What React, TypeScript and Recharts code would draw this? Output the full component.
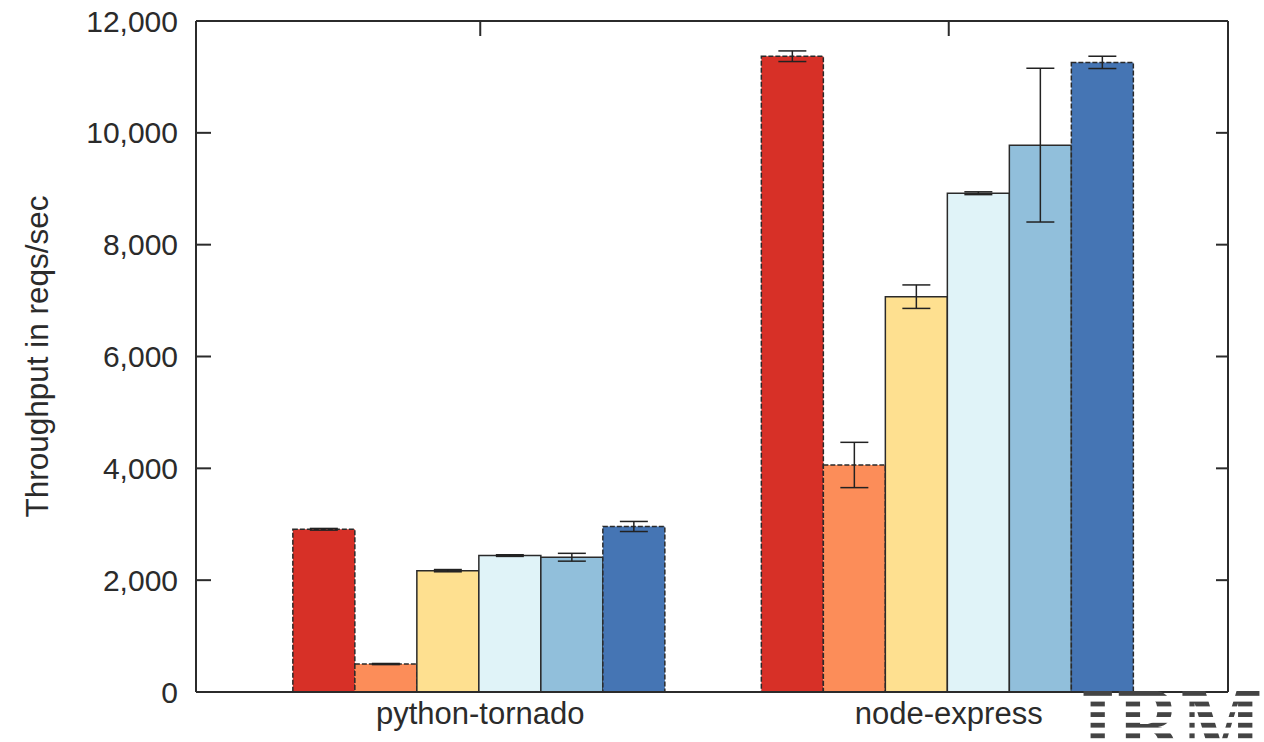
import React from 'react';
import { BarChart, Bar, XAxis, YAxis, ErrorBar } from 'recharts';

// categories on the x axis
const groups = ['python-tornado', 'node-express'];

// throughput per run (reqs/sec) and the error half-width
const run1 = [2910, 11370];
const run1Err = [15, 95];
const run2 = [500, 4060];
const run2Err = [10, 405];
const run3 = [2170, 7070];
const run3Err = [20, 210];
const run4 = [2440, 8920];
const run4Err = [15, 25];
const run5 = [2410, 9780];
const run5Err = [70, 1375];
const run6 = [2960, 11260];
const run6Err = [90, 110];

const yTicks = [0, 2000, 4000, 6000, 8000, 10000, 12000];

const runs = [
  { key: 'run1', values: run1, errors: run1Err, color: '#d73027', dashed: true },
  { key: 'run2', values: run2, errors: run2Err, color: '#fc8d59', dashed: true },
  { key: 'run3', values: run3, errors: run3Err, color: '#fee090', dashed: false },
  { key: 'run4', values: run4, errors: run4Err, color: '#e0f3f8', dashed: false },
  { key: 'run5', values: run5, errors: run5Err, color: '#91bfdb', dashed: false },
  { key: 'run6', values: run6, errors: run6Err, color: '#4575b4', dashed: true },
];

const data = groups.map((name, i) => {
  const row: Record<string, string | number> = { name };
  runs.forEach((r) => {
    row[r.key] = r.values[i];
    row[r.key + 'Err'] = r.errors[i];
  });
  return row;
});

const FONT = '"Liberation Sans", Arial, Helvetica, sans-serif';
const AXIS = '#2b2b2b';
const xPad = { left: 50, right: 45 };

const noTick = () => <g />;

const App: React.FC = () => {
  return (
    <div style={{ position: 'absolute', left: 0, top: 0, width: 1264, height: 742, background: '#fff' }}>
      <BarChart
        width={1264}
        height={742}
        data={data}
        margin={{ top: 0, right: 0, bottom: 0, left: 0 }}
        barCategoryGap="10%"
        barGap={0}
      >
        <XAxis
          dataKey="name"
          xAxisId="bottom"
          height={50}
          padding={xPad}
          stroke={AXIS}
          strokeWidth={2}
          tickLine={false}
          tickSize={6}
          tickMargin={4}
          tick={{ fontSize: 31, fontFamily: FONT, fill: '#2b2b2b' }}
        />
        <XAxis
          dataKey="name"
          xAxisId="top"
          orientation="top"
          height={21}
          padding={xPad}
          stroke={AXIS}
          strokeWidth={2}
          tickSize={-15}
          tick={noTick}
        />
        <YAxis
          yAxisId="left"
          width={196}
          domain={[0, 12000]}
          ticks={yTicks}
          interval={0}
          stroke={AXIS}
          strokeWidth={2}
          tickSize={-15}
          tickMargin={33}
          tickFormatter={(v: number) => v.toLocaleString('en-US')}
          tick={{ fontSize: 30, fontFamily: FONT, fill: '#2b2b2b' }}
          label={{
            content: ({ viewBox }: any) => {
              const cx = (viewBox?.x ?? 0) + 37;
              const cy = (viewBox?.y ?? 0) + (viewBox?.height ?? 0) / 2;
              return (
                <text
                  x={cx}
                  y={cy}
                  transform={`rotate(-90 ${cx} ${cy})`}
                  textAnchor="middle"
                  dominantBaseline="central"
                  fontSize={31.5}
                  fontFamily={FONT}
                  fill="#2b2b2b"
                >
                  Throughput in reqs/sec
                </text>
              );
            },
          }}
        />
        <YAxis
          yAxisId="right"
          orientation="right"
          width={36}
          domain={[0, 12000]}
          ticks={yTicks}
          interval={0}
          allowDataOverflow
          stroke={AXIS}
          strokeWidth={2}
          tickSize={-12}
          tick={noTick}
        />
        {runs.map((r) => (
          <Bar
            key={r.key}
            dataKey={r.key}
            xAxisId="bottom"
            yAxisId="left"
            fill={r.color}
            stroke="#2a2a2a"
            strokeWidth={1.5}
            strokeDasharray={r.dashed ? '5 2' : undefined}
            isAnimationActive={false}
          >
            <ErrorBar dataKey={r.key + 'Err'} width={14} stroke="#222" strokeWidth={1.5} isAnimationActive={false} />
          </Bar>
        ))}
      </BarChart>

      {/* striped corner logo */}
      <svg
        width={1264}
        height={742}
        style={{ position: 'absolute', left: 0, top: 0, pointerEvents: 'none' }}
      >
        <defs>
          <pattern id="stripes" patternUnits="userSpaceOnUse" x={0} y={691} width={20} height={10.6}>
            <rect x={0} y={0} width={20} height={4.8} fill="#444" />
          </pattern>
        </defs>
        <text
          x={1080}
          y={771}
          fontFamily='"DejaVu Serif", serif'
          fontWeight="bold"
          fontSize={110}
          textLength={183}
          lengthAdjust="spacingAndGlyphs"
          fill="url(#stripes)"
        >
          IBM
        </text>
      </svg>
    </div>
  );
};

export default App;
